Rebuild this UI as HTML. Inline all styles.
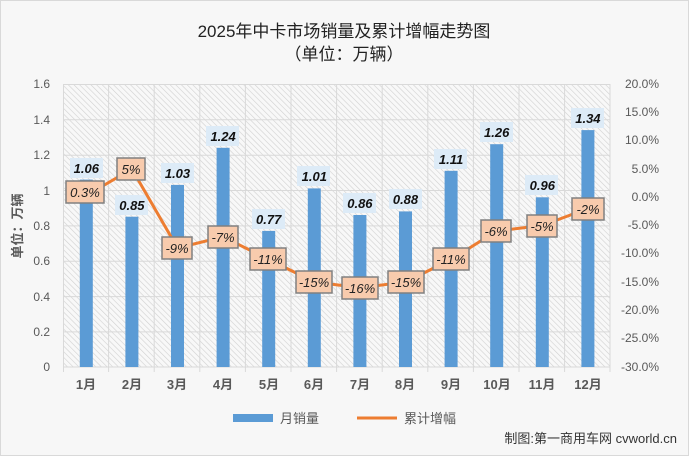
<!DOCTYPE html>
<html><head><meta charset="utf-8"><style>
body{margin:0;background:#fff}
svg{display:block;font-family:"Liberation Sans","Noto Sans CJK SC",sans-serif}
</style></head><body>
<svg width="689" height="456" viewBox="0 0 689 456" xmlns="http://www.w3.org/2000/svg">
<defs>
<pattern id="h" width="4" height="4" patternUnits="userSpaceOnUse" patternTransform="rotate(-45)">
<rect width="4" height="4" fill="#f8f8f8"/><line x1="0" y1="0" x2="0" y2="4" stroke="#d0d0d0" stroke-width="1.2"/>
</pattern>
</defs>
<rect x="0.5" y="0.5" width="688" height="455" fill="#f7f7f7" stroke="#d9d9d9"/>
<text x="344" y="37" text-anchor="middle" font-size="17" fill="#222">2025年中卡市场销量及累计增幅走势图</text>
<text x="344" y="60" text-anchor="middle" font-size="17" fill="#222">（单位：万辆）</text>
<rect x="63" y="84" width="547" height="283" fill="url(#h)"/>
<g stroke="#d9d9d9" stroke-width="1">
<line x1="63" y1="84.5" x2="610" y2="84.5"/><line x1="63" y1="119.8" x2="610" y2="119.8"/><line x1="63" y1="155.2" x2="610" y2="155.2"/><line x1="63" y1="190.5" x2="610" y2="190.5"/><line x1="63" y1="225.9" x2="610" y2="225.9"/><line x1="63" y1="261.2" x2="610" y2="261.2"/><line x1="63" y1="296.6" x2="610" y2="296.6"/><line x1="63" y1="331.9" x2="610" y2="331.9"/>
<line x1="63.5" y1="84" x2="63.5" y2="372"/><line x1="108.6" y1="84" x2="108.6" y2="372"/><line x1="154.2" y1="84" x2="154.2" y2="372"/><line x1="199.8" y1="84" x2="199.8" y2="372"/><line x1="245.4" y1="84" x2="245.4" y2="372"/><line x1="291" y1="84" x2="291" y2="372"/><line x1="336.6" y1="84" x2="336.6" y2="372"/><line x1="382.2" y1="84" x2="382.2" y2="372"/><line x1="427.8" y1="84" x2="427.8" y2="372"/><line x1="473.4" y1="84" x2="473.4" y2="372"/><line x1="519" y1="84" x2="519" y2="372"/><line x1="564.6" y1="84" x2="564.6" y2="372"/><line x1="610" y1="84" x2="610" y2="372"/>
<line x1="63" y1="367" x2="610" y2="367"/>
</g>
<g font-size="12" fill="#595959" text-anchor="end">
<text x="50" y="88">1.6</text><text x="50" y="124">1.4</text><text x="50" y="159">1.2</text><text x="50" y="195">1</text><text x="50" y="230">0.8</text><text x="50" y="265">0.6</text><text x="50" y="301">0.4</text><text x="50" y="336">0.2</text><text x="50" y="371">0</text>
</g>
<g font-size="12" fill="#595959" text-anchor="end">
<text x="659" y="88">20.0%</text><text x="659" y="116">15.0%</text><text x="659" y="144">10.0%</text><text x="659" y="173">5.0%</text><text x="659" y="201">0.0%</text><text x="659" y="229">-5.0%</text><text x="659" y="257">-10.0%</text><text x="659" y="286">-15.0%</text><text x="659" y="314">-20.0%</text><text x="659" y="342">-25.0%</text><text x="659" y="371">-30.0%</text>
</g>
<text transform="translate(22,226) rotate(-90)" text-anchor="middle" font-size="13" fill="#595959" font-weight="bold">单位：万辆</text>
<g fill="#5b9bd5">
<rect x="79.8" y="179.6" width="13" height="187.4"/><rect x="125.4" y="216.7" width="13" height="150.3"/><rect x="171" y="184.9" width="13" height="182.1"/><rect x="216.6" y="147.8" width="13" height="219.2"/><rect x="262.2" y="230.9" width="13" height="136.1"/><rect x="307.8" y="188.4" width="13" height="178.6"/><rect x="353.4" y="215" width="13" height="152"/><rect x="399" y="211.4" width="13" height="155.6"/><rect x="444.6" y="170.8" width="13" height="196.2"/><rect x="490.2" y="144.2" width="13" height="222.8"/><rect x="535.8" y="197.3" width="13" height="169.7"/><rect x="581.4" y="130.1" width="13" height="236.9"/>
</g>
<g font-size="13" font-weight="bold" font-style="italic" fill="#111" text-anchor="middle">
<g fill="#ddebf7"><rect x="70" y="158" width="33" height="20"/><rect x="115" y="195" width="33" height="20"/><rect x="161" y="163" width="33" height="20"/><rect x="206" y="126" width="33" height="20"/><rect x="252" y="209" width="33" height="20"/><rect x="297" y="166" width="33" height="20"/><rect x="343" y="193" width="33" height="20"/><rect x="389" y="189" width="33" height="20"/><rect x="434" y="149" width="33" height="20"/><rect x="480" y="122" width="33" height="20"/><rect x="525" y="175" width="33" height="20"/><rect x="571" y="108" width="33" height="20"/></g>
<text x="86.3" y="173">1.06</text><text x="131.9" y="210">0.85</text><text x="177.5" y="178">1.03</text><text x="223.1" y="141">1.24</text><text x="268.7" y="224">0.77</text><text x="314.3" y="181">1.01</text><text x="359.9" y="208">0.86</text><text x="405.5" y="204">0.88</text><text x="451.1" y="164">1.11</text><text x="496.7" y="137">1.26</text><text x="542.3" y="190">0.96</text><text x="587.9" y="123">1.34</text>
</g>
<polyline fill="none" stroke="#ed7d31" stroke-width="3" stroke-linejoin="round" points="86.3,195.5 131.9,169 177.5,248 223.1,236.8 268.7,259.5 314.3,282 359.9,287.8 405.5,282 451.1,259.5 496.7,231 542.3,225.5 587.9,208.5"/>
<g fill="#f8cbad" stroke="#808080" stroke-width="1.5">
<rect x="66" y="181" width="38" height="22"/><rect x="117" y="158" width="28" height="22"/><rect x="162" y="237" width="30" height="22"/><rect x="208" y="226" width="30" height="22"/><rect x="250" y="248" width="36" height="22"/><rect x="296" y="271" width="36" height="22"/><rect x="342" y="277" width="36" height="22"/><rect x="388" y="271" width="36" height="22"/><rect x="433" y="248" width="36" height="22"/><rect x="481" y="220" width="30" height="22"/><rect x="527" y="215" width="30" height="22"/><rect x="572" y="198" width="32" height="22"/>
</g>
<g font-size="13" font-style="italic" fill="#222" text-anchor="middle">
<text x="85" y="197">0.3%</text><text x="131" y="174">5%</text><text x="177" y="253">-9%</text><text x="223" y="242">-7%</text><text x="268" y="264">-11%</text><text x="314" y="287">-15%</text><text x="360" y="293">-16%</text><text x="406" y="287">-15%</text><text x="451" y="264">-11%</text><text x="496" y="236">-6%</text><text x="542" y="231">-5%</text><text x="588" y="214">-2%</text>
</g>
<g font-size="13" font-weight="bold" fill="#595959" text-anchor="middle">
<text x="86" y="389">1月</text><text x="132" y="389">2月</text><text x="177" y="389">3月</text><text x="223" y="389">4月</text><text x="269" y="389">5月</text><text x="314" y="389">6月</text><text x="360" y="389">7月</text><text x="405" y="389">8月</text><text x="451" y="389">9月</text><text x="497" y="389">10月</text><text x="542" y="389">11月</text><text x="588" y="389">12月</text>
</g>
<rect x="233" y="414" width="40" height="8" fill="#5b9bd5"/>
<text x="280" y="423" font-size="13" fill="#595959">月销量</text>
<line x1="357" y1="418" x2="397" y2="418" stroke="#ed7d31" stroke-width="3"/>
<text x="404" y="423" font-size="13" fill="#595959">累计增幅</text>
<text x="677" y="443" text-anchor="end" font-size="13" fill="#333">制图:第一商用车网 cvworld.cn</text>
</svg>
</body></html>
